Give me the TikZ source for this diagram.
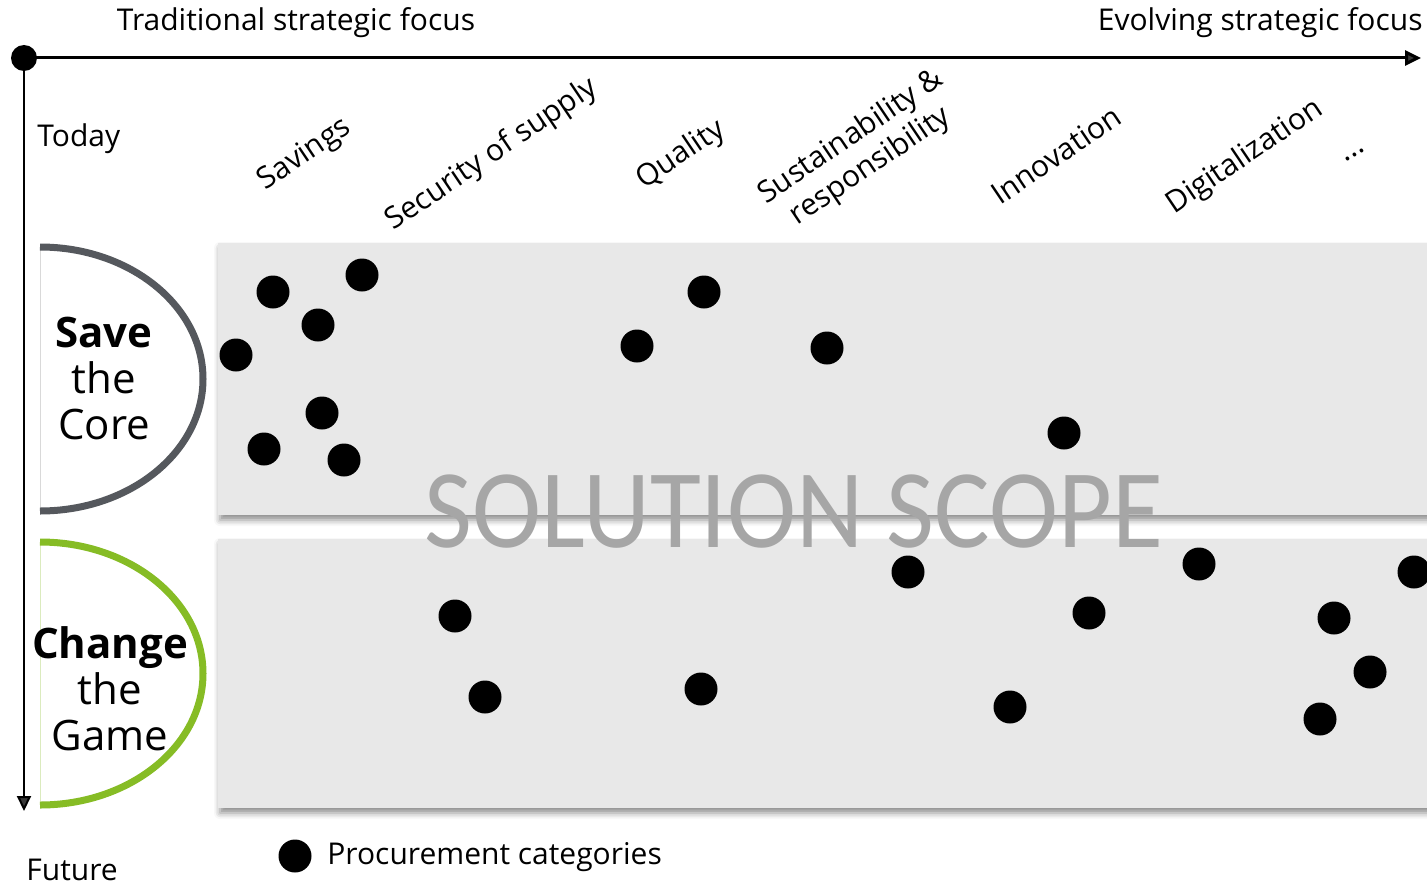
\documentclass[tikz,border=0pt]{standalone}
\usepackage{fontspec}
\setmainfont{Open Sans}
\newfontfamily\scopefont{Carlito}
\usetikzlibrary{arrows.meta,shadows.blur}

\definecolor{bandgray}{HTML}{E8E8E8}
\definecolor{coregray}{HTML}{55585D}
\definecolor{gamegreen}{HTML}{86BC25}
\definecolor{scopegray}{HTML}{A6A6A6}

\begin{document}
\begin{tikzpicture}[x=0.5pt, y=-0.5pt,
    every node/.style={inner sep=0pt, font=\fontsize{15}{17.5}\selectfont},
    catdot/.style={circle, fill=black, minimum size=16.5pt},
    band/.style={fill=bandgray, blur shadow={shadow xshift=1pt, shadow yshift=-2.5pt, shadow blur radius=3pt, shadow opacity=45}},
    focus/.style={rotate=34, align=center},
    half/.style={line width=3.5pt},
    mode/.style={align=center, font=\fontsize{21}{23}\selectfont}]
    \useasboundingbox (0,0) rectangle (1427,883);
    \clip (0,0) rectangle (1427,883);

    % the two bands
    \fill[band] (218,243) rectangle (1445,515);
    \fill[band] (218,539) rectangle (1445,808);

    % axes
    \node[circle, fill=black, minimum size=13pt] (origin) at (24,58) {};
    \coordinate (xend) at (1421,58);
    \coordinate (yend) at (24,811);
    \draw[line width=1.5pt, -{Triangle[length=8pt, width=7.5pt]}] (origin.center) -- (xend);
    \draw[line width=1pt, -{Triangle[length=7.5pt, width=7pt]}] (origin.center) -- (yend);

    \node (trad) at (296,23) {Traditional strategic focus};
    \node[anchor=east] (evol) at (1423,23) {Evolving strategic focus};
    \node[anchor=west] (today) at (37,139) {Today};
    \node[anchor=west] (future) at (26,870) {Future};

    % strategic focus areas
    \node[focus] (savings) at (305,155) {Savings};
    \node[focus] (security) at (492,155) {Security of supply};
    \node[focus] (quality) at (681,155) {Quality};
    \node[focus] (sustain) at (861,152) {Sustainability \&\\responsibility};
    \node[focus] (innov) at (1056,155) {Innovation};
    \node[focus] (digital) at (1245,157) {Digitalization};
    \node[focus] (more) at (1355,155) {...};

    % save the core / change the game
    \draw[gray!30, line width=0.5pt] (40,247) -- (40,511);
    \draw[half, coregray] (40,247) arc[start angle=-90, end angle=90, x radius=163, y radius=132];
    \draw[gamegreen!30, line width=0.5pt] (40,542) -- (40,805);
    \draw[half, gamegreen] (40,542) arc[start angle=-90, end angle=90, x radius=163, y radius=131.5];
    \node[mode] (core) at (104,378) {\textbf{Save}\\the\\Core};
    \node[mode] (game) at (110,689) {\textbf{Change}\\the\\Game};

    % procurement categories
    \node[catdot] (c1) at (273,292) {};
    \node[catdot] (c2) at (362,275) {};
    \node[catdot] (c3) at (318,325) {};
    \node[catdot] (c4) at (236,355) {};
    \node[catdot] (c5) at (322,413) {};
    \node[catdot] (c6) at (264,449) {};
    \node[catdot] (c7) at (344,460) {};
    \node[catdot] (c8) at (637,346) {};
    \node[catdot] (c9) at (704,292) {};
    \node[catdot] (c10) at (827,348) {};
    \node[catdot] (c11) at (1064,433) {};

    \node[catdot] (c12) at (908,572) {};
    \node[catdot] (c13) at (455,616) {};
    \node[catdot] (c14) at (485,697) {};
    \node[catdot] (c15) at (701,689) {};
    \node[catdot] (c16) at (1010,707) {};
    \node[catdot] (c17) at (1089,613) {};
    \node[catdot] (c18) at (1199,564) {};
    \node[catdot] (c19) at (1414,572) {};
    \node[catdot] (c20) at (1334,618) {};
    \node[catdot] (c21) at (1370,672) {};
    \node[catdot] (c22) at (1320,719) {};

    \node[text=scopegray, xscale=0.93, font=\scopefont\fontsize{56}{56}\selectfont] (scope) at (794,512) {SOLUTION SCOPE};

    % legend
    \node[catdot] (key) at (295,856) {};
    \node[anchor=west] (keytext) at (327,857) {Procurement categories};
\end{tikzpicture}
\end{document}
